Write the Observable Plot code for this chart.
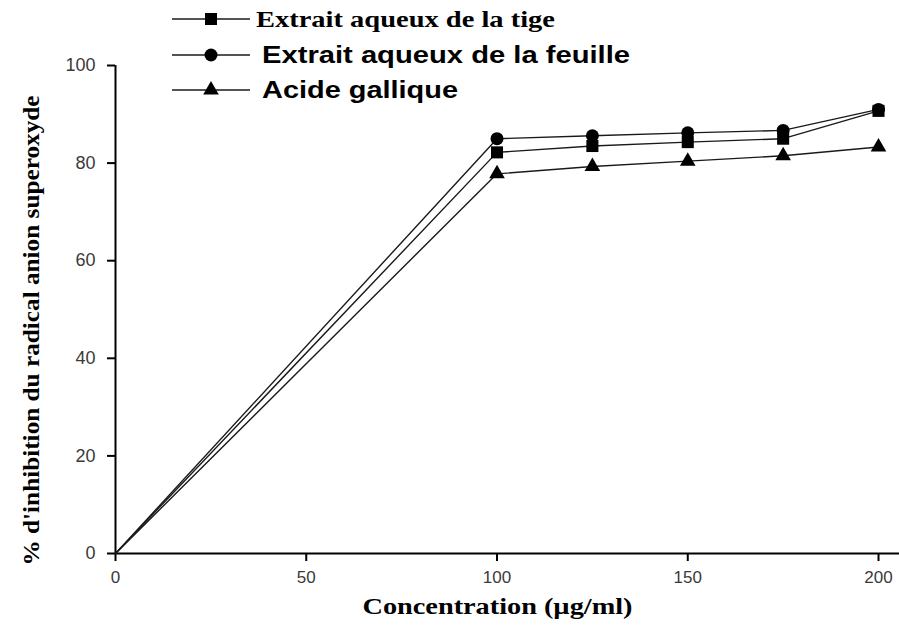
<!DOCTYPE html>
<html>
<head>
<meta charset="utf-8">
<script src="https://cdn.jsdelivr.net/npm/d3@7"></script>
<script src="https://cdn.jsdelivr.net/npm/@observablehq/plot@0.6"></script>
<style>
  html, body { margin: 0; padding: 0; background: #fff; }
  #wrap { position: relative; width: 899px; height: 630px; }
  #legend { position: absolute; left: 0; top: 0; }
  #chart [aria-label="x-axis tick label"] text,
  #chart [aria-label="y-axis tick label"] text { fill: #3a3a3a; }
</style>
</head>
<body>
<div id="wrap"><div id="chart"></div><svg id="legend" width="700" height="110"></svg></div>
<script>
// Concentration (µg/ml)
const concentrations = [0, 100, 125, 150, 175, 200];

// Series names
const seriesNames = [
  "Extrait aqueux de la tige",
  "Extrait aqueux de la feuille",
  "Acide gallique"
];

// % inhibition of the superoxide anion radical
const tige     = [0, 82.2, 83.5, 84.3, 85.0, 90.7];
const feuille  = [0, 85.0, 85.6, 86.2, 86.7, 91.0];
const gallique = [0, 77.8, 79.3, 80.4, 81.5, 83.3];

const xTicks = [0, 50, 100, 150, 200];
const yTicks = [0, 20, 40, 60, 80, 100];

const xTitle = "Concentration (µg/ml)";
const yTitle = "% d'inhibition du radical anion superoxyde";

const symbols = ["square", "circle", "triangle"];
const d3Symbols = [d3.symbolSquare, d3.symbolCircle, d3.symbolTriangle];
const radii = [6.8, 6.5, 5.8];

const seriesValues = [tige, feuille, gallique];
const rows = seriesValues.flatMap((vals, i) =>
  concentrations.map((c, j) => ({ series: seriesNames[i], x: c, y: vals[j] }))
);

const sans = "'Liberation Sans', Arial, sans-serif";
const serif = "'Liberation Serif', 'Times New Roman', serif";

const chart = Plot.plot({
  width: 899,
  height: 630,
  marginLeft: 115,
  marginRight: 0,
  marginTop: 65,
  marginBottom: 77,
  x: { domain: [0, 205.5] },
  y: { domain: [0, 100] },
  symbol: { domain: seriesNames, range: symbols },
  marks: [
    Plot.axisX({ ticks: xTicks, tickSize: 8, tickPadding: 9, strokeWidth: 2, stroke: "black",
                 fontSize: 17, fontFamily: sans, label: null }),
    Plot.axisY({ ticks: yTicks, tickSize: 8, tickPadding: 12, strokeWidth: 2, stroke: "black",
                 fontSize: 18, fontFamily: sans, label: null }),
    Plot.ruleY([0], { stroke: "black", strokeWidth: 2 }),
    Plot.ruleX([0], { y1: 0, y2: 100, stroke: "black", strokeWidth: 2 }),
    Plot.line(rows, { x: "x", y: "y", z: "series", stroke: "#1a1a1a", strokeWidth: 1.4 }),
    ...seriesNames.map((name, i) =>
      Plot.dot(rows.filter(d => d.series === name && d.x > 0),
        { x: "x", y: "y", symbol: "series", fill: "black", stroke: "none", r: radii[i] })
    ),
    Plot.text([xTitle], {
      frameAnchor: "bottom", dx: -10, dy: 60, fontSize: 24, fontWeight: "bold",
      fontFamily: serif, fill: "black", textAnchor: "middle"
    }),
    Plot.text([yTitle], {
      frameAnchor: "left", rotate: -90, dx: -84, dy: 21, fontSize: 24, fontWeight: "bold",
      fontFamily: serif, fill: "black", textAnchor: "middle"
    })
  ]
});
document.getElementById("chart").append(chart);

// Stretch the axis titles to their drawn lengths
const fit = (svg, str, len) => d3.select(svg).selectAll("text")
  .filter(function () { return this.textContent === str; })
  .attr("textLength", len).attr("lengthAdjust", "spacingAndGlyphs");
fit(chart, xTitle, 270);
fit(chart, yTitle, 470);

// Legend: line with marker, then label
const legend = d3.select("#legend");
const rowY = [19, 55, 90];
const labelStyle = [
  { family: serif, size: 23, x: 256, len: 299 },
  { family: sans, size: 24, x: 262, len: 368 },
  { family: sans, size: 24, x: 262, len: 196 }
];
seriesNames.forEach((name, i) => {
  const g = legend.append("g").attr("transform", `translate(0,${rowY[i]})`);
  g.append("line").attr("x1", 172).attr("x2", 250).attr("y1", 0).attr("y2", 0)
    .attr("stroke", "#1a1a1a").attr("stroke-width", 1.4);
  const sym = d3.symbol(d3Symbols[i], Math.PI * radii[i] * radii[i]);
  g.append("path").attr("d", sym()).attr("transform", "translate(211,0)").attr("fill", "black");
  g.append("text").attr("x", labelStyle[i].x).attr("y", 0).attr("dy", "0.35em")
    .attr("font-family", labelStyle[i].family).attr("font-size", labelStyle[i].size)
    .attr("font-weight", "bold").attr("fill", "black")
    .attr("textLength", labelStyle[i].len).attr("lengthAdjust", "spacingAndGlyphs")
    .text(name);
});
</script>
</body>
</html>
